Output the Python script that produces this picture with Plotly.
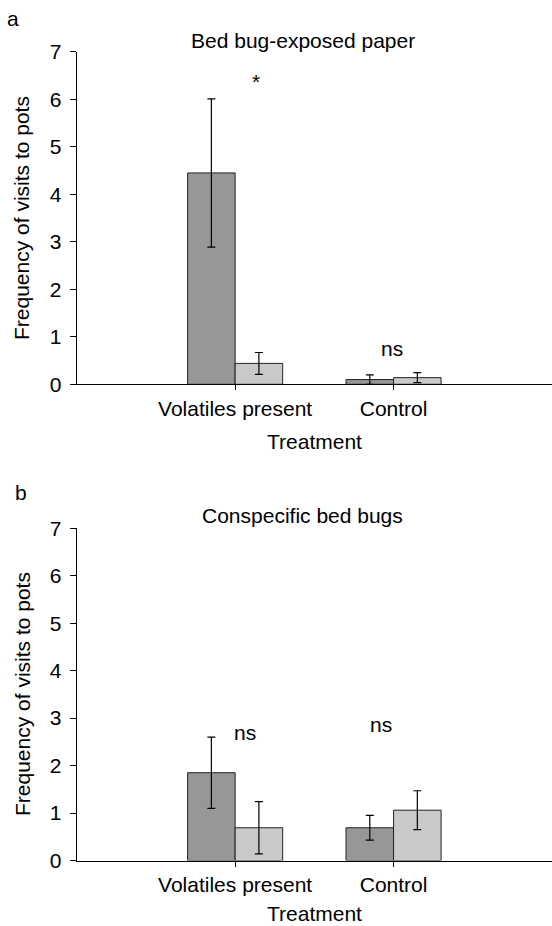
import plotly.graph_objects as go

# ---- data ----
categories = ["Volatiles present", "Control"]
cat_pos = [0, 1]

# Panel a: Bed bug-exposed paper
a_dark = [4.45, 0.10]
a_dark_err = [1.56, 0.10]
a_light = [0.44, 0.14]
a_light_err = [0.23, 0.105]

# Panel b: Conspecific bed bugs
b_dark = [1.85, 0.69]
b_dark_err = [0.75, 0.26]
b_light = [0.69, 1.06]
b_light_err = [0.55, 0.41]

y_ticks = [0, 1, 2, 3, 4, 5, 6, 7]

# annotations (label, x, y)
a_marks = [("*", 0.13, 6.38), ("ns", 0.99, 0.76)]
b_marks = [("ns", 0.06, 2.70), ("ns", 0.92, 2.86)]

FONT = "Liberation Sans, Arial, Helvetica, sans-serif"
FS = 21
DARK = "#979797"
LIGHT = "#c9c9c9"
EDGE = "#222222"

W, H = 552, 926
def fy(px):
    return 1 - px / H
def fx(px):
    return px / W

fig = go.Figure()

def add_bars(vals, errs, color, offset, xa, ya):
    fig.add_trace(go.Bar(
        x=cat_pos, y=vals, width=0.3, offset=offset,
        marker=dict(color=color, line=dict(color=EDGE, width=1)),
        error_y=dict(type="data", array=errs, visible=True, color="black", thickness=1.2, width=4),
        xaxis=xa, yaxis=ya, showlegend=False))

add_bars(a_dark, a_dark_err, DARK, -0.3, "x", "y")
add_bars(a_light, a_light_err, LIGHT, 0.0, "x", "y")
add_bars(b_dark, b_dark_err, DARK, -0.3, "x2", "y2")
add_bars(b_light, b_light_err, LIGHT, 0.0, "x2", "y2")

xdom = [fx(76.7), 1.0]
xcommon = dict(range=[-1, 2], tickvals=cat_pos, ticktext=categories, ticks="outside", ticklen=5,
               tickcolor="black", showline=True, linecolor="black", linewidth=1.2, showgrid=False,
               zeroline=False, tickfont=dict(family=FONT, size=FS, color="black"), domain=xdom,
               fixedrange=True, automargin=False)
ycommon = dict(range=[0, 7], tickvals=y_ticks, ticks="outside", ticklen=6, tickcolor="black",
               showline=True, linecolor="black", linewidth=1.2, showgrid=False, zeroline=False,
               tickfont=dict(family=FONT, size=FS, color="black"), ticklabelstandoff=4,
               automargin=False)

fig.update_layout(
    width=W, height=H, margin=dict(l=0, r=0, t=0, b=0),
    paper_bgcolor="white", plot_bgcolor="white", barmode="overlay",
    xaxis=dict(**xcommon, anchor="y"),
    yaxis=dict(**ycommon, domain=[fy(384.3), fy(51.8)], anchor="x"),
    xaxis2=dict(**xcommon, anchor="y2"),
    yaxis2=dict(**ycommon, domain=[fy(860.5), fy(528.3)], anchor="x2"),
)

anns = []
def ptext(t, x, y, rot=0):
    anns.append(dict(text=t, x=fx(x), y=fy(y), xref="paper", yref="paper", showarrow=False,
                     xanchor="center", yanchor="middle", textangle=rot,
                     font=dict(family=FONT, size=FS, color="black")))

ptext("a", 13, 18)
ptext("Bed bug-exposed paper", 302.7, 40.7)
ptext("Frequency of visits to pots", 22, 218, -90)
ptext("Treatment", 314, 441.7)
ptext("b", 21, 493)
ptext("Conspecific bed bugs", 302.7, 515)
ptext("Frequency of visits to pots", 22, 694, -90)
ptext("Treatment", 314, 913)

for t, x, y in a_marks:
    anns.append(dict(text=t, x=x, y=y, xref="x", yref="y", showarrow=False, xanchor="center",
                     yanchor="middle", font=dict(family=FONT, size=FS, color="black")))
for t, x, y in b_marks:
    anns.append(dict(text=t, x=x, y=y, xref="x2", yref="y2", showarrow=False, xanchor="center",
                     yanchor="middle", font=dict(family=FONT, size=FS, color="black")))

fig.update_layout(annotations=anns)
fig.write_html("out.html", config={"displayModeBar": False},
               post_script="document.body.style.margin='0';document.body.style.overflow='hidden';"
                           "document.documentElement.style.overflow='hidden';")
